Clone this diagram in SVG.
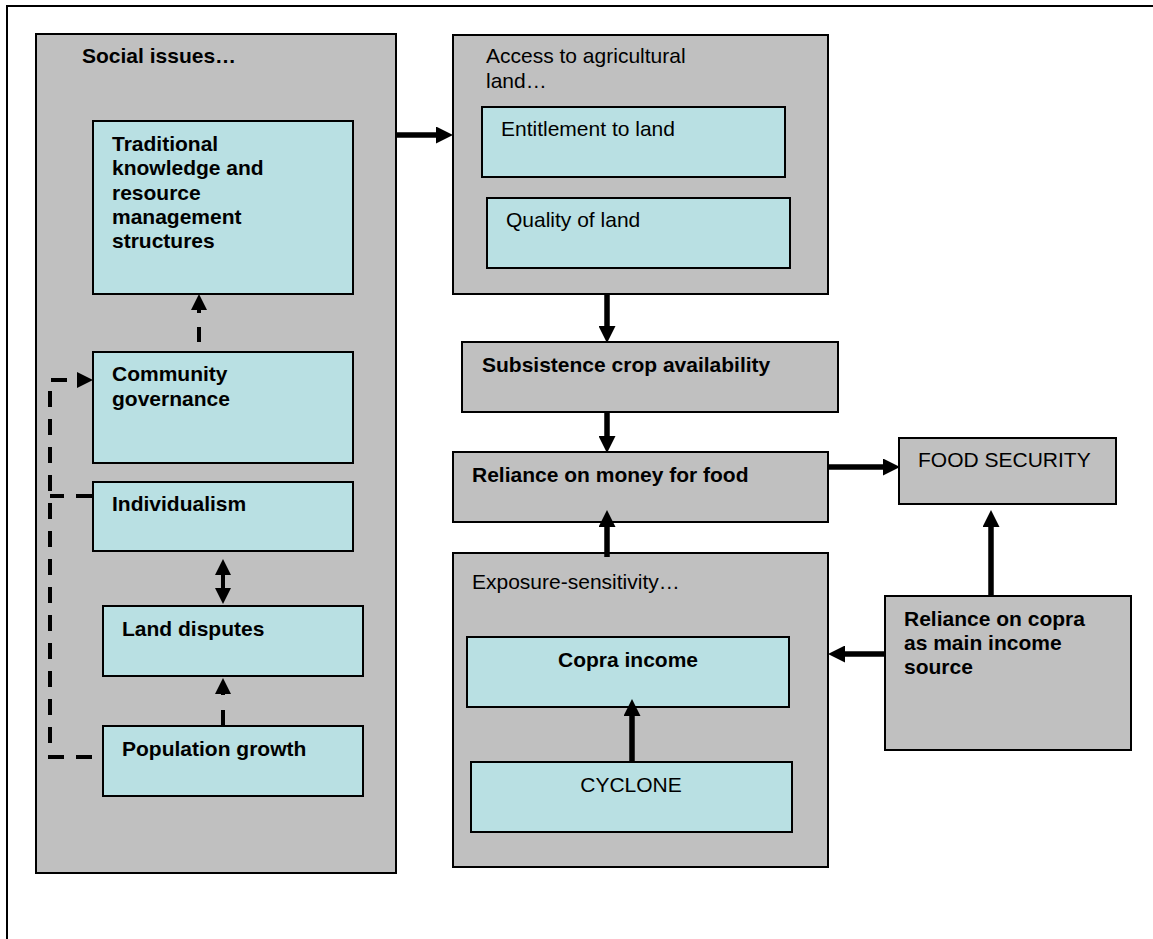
<svg xmlns="http://www.w3.org/2000/svg" width="1153" height="939" viewBox="0 0 1153 939">
<style>
text{font-family:"Liberation Sans",Arial,sans-serif;font-size:21px;fill:#000}
.b{font-weight:bold}
.grey{fill:#C0C0C0;stroke:#000;stroke-width:2}
.blue{fill:#B9E0E3;stroke:#000;stroke-width:2}
.solid{fill:none;stroke:#000;stroke-width:5.5}
.dash{fill:none;stroke:#000;stroke-width:4}
</style>
<defs>
<marker id="ah" markerUnits="userSpaceOnUse" markerWidth="17" markerHeight="17" viewBox="0 0 17 17" refX="0" refY="8.5" orient="auto"><path d="M0,0 L17,8.5 L0,17 z" fill="#000"/></marker>
<marker id="ahs" markerUnits="userSpaceOnUse" markerWidth="16" markerHeight="16" viewBox="0 0 16 16" refX="0" refY="8" orient="auto-start-reverse"><path d="M0,0 L16,8 L0,16 z" fill="#000"/></marker>
</defs>
<rect width="1153" height="939" fill="#fff"/>
<path d="M7,939 V6 H1153" fill="none" stroke="#000" stroke-width="2"/>

<g id="social">
<rect class="grey" x="36" y="34" width="360" height="839"/>
<text class="b" x="82" y="63">Social issues…</text>
</g>
<g id="traditional">
<rect class="blue" x="93" y="121" width="260" height="173"/>
<text class="b" x="112" y="151">Traditional</text>
<text class="b" x="112" y="175">knowledge and</text>
<text class="b" x="112" y="199.5">resource</text>
<text class="b" x="112" y="223.5">management</text>
<text class="b" x="112" y="248">structures</text>
</g>
<g id="community">
<rect class="blue" x="93" y="352" width="260" height="111"/>
<text class="b" x="112" y="381">Community</text>
<text class="b" x="112" y="406">governance</text>
</g>
<g id="individualism">
<rect class="blue" x="93" y="482" width="260" height="69"/>
<text class="b" x="112" y="511">Individualism</text>
</g>
<g id="land-disputes">
<rect class="blue" x="103" y="606" width="260" height="70"/>
<text class="b" x="122" y="636">Land disputes</text>
</g>
<g id="population">
<rect class="blue" x="103" y="726" width="260" height="70"/>
<text class="b" x="122" y="756">Population growth</text>
</g>

<g id="access">
<rect class="grey" x="453" y="35" width="375" height="259"/>
<text x="486" y="63">Access to agricultural</text>
<text x="486" y="87.5">land…</text>
</g>
<g id="entitlement">
<rect class="blue" x="482" y="107" width="303" height="70"/>
<text x="501" y="136">Entitlement to land</text>
</g>
<g id="quality">
<rect class="blue" x="487" y="198" width="303" height="70"/>
<text x="506" y="227">Quality of land</text>
</g>
<g id="subsistence">
<rect class="grey" x="462" y="342" width="376" height="70"/>
<text class="b" x="482" y="372">Subsistence crop availability</text>
</g>
<g id="money">
<rect class="grey" x="453" y="452" width="375" height="70"/>
<text class="b" x="472" y="482">Reliance on money for food</text>
</g>
<g id="food-security">
<rect class="grey" x="899" y="438" width="217" height="66"/>
<text x="918" y="467">FOOD SECURITY</text>
</g>
<g id="exposure">
<rect class="grey" x="453" y="553" width="375" height="314"/>
<text x="472" y="588.5">Exposure-sensitivity…</text>
</g>
<g id="copra-income">
<rect class="blue" x="467" y="637" width="322" height="70"/>
<text class="b" x="628" y="667" text-anchor="middle">Copra income</text>
</g>
<g id="cyclone">
<rect class="blue" x="471" y="762" width="321" height="70"/>
<text x="631" y="792" text-anchor="middle">CYCLONE</text>
</g>
<g id="copra-reliance">
<rect class="grey" x="885" y="596" width="246" height="154"/>
<text class="b" x="904" y="626">Reliance on copra</text>
<text class="b" x="904" y="650">as main income</text>
<text class="b" x="904" y="674">source</text>
</g>

<g id="connectors">
<path class="solid" d="M397,135 H436" marker-end="url(#ah)"/>
<path class="solid" d="M607,295 V326" marker-end="url(#ah)"/>
<path class="solid" d="M607,413 V436" marker-end="url(#ah)"/>
<path class="solid" d="M829,467 H883" marker-end="url(#ah)"/>
<path class="solid" d="M607,557 V527" marker-end="url(#ah)"/>
<path class="solid" d="M991,596 V527" marker-end="url(#ah)"/>
<path class="solid" d="M885,654 H845" marker-end="url(#ah)"/>
<path class="solid" d="M632,762 V716" marker-end="url(#ah)"/>
<path class="dash" d="M199,352 V310" stroke-dasharray="15 14" stroke-dashoffset="19" marker-end="url(#ahs)"/>
<path class="dash" d="M223,726 V694" stroke-dasharray="16 15" marker-end="url(#ahs)"/>
<path class="dash" d="M223,575 V588" marker-start="url(#ahs)" marker-end="url(#ahs)"/>
<path class="dash" d="M92,757 H50 V380 H77" stroke-dasharray="16 12" marker-end="url(#ahs)"/>
<path class="dash" d="M92,496 H50" stroke-dasharray="16 12"/>
</g>
</svg>
